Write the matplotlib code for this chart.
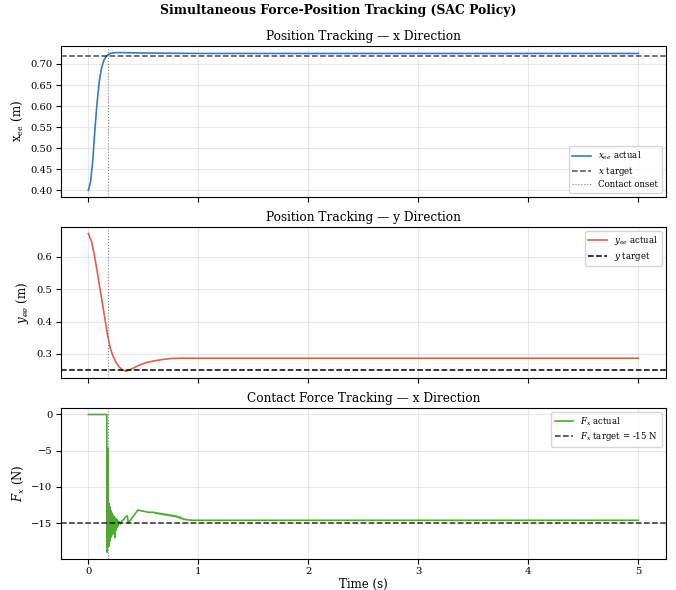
import matplotlib
matplotlib.use("Agg")
import matplotlib.pyplot as plt
from matplotlib.ticker import MultipleLocator, FormatStrFormatter

plt.rcParams["font.family"] = "DejaVu Serif"
plt.rcParams["mathtext.fontset"] = "dejavuserif"

# x position of end effector
t_x = [0.0, 0.02, 0.04, 0.06, 0.08, 0.10, 0.12, 0.14, 0.16, 0.18, 0.20, 0.25, 0.30, 0.50, 1.0, 5.0]
x_ee = [0.400, 0.420, 0.470, 0.545, 0.610, 0.660, 0.690, 0.708, 0.717, 0.722, 0.725, 0.727, 0.727, 0.726, 0.725, 0.725]

# y position of end effector
t_y = [0.0, 0.03, 0.055, 0.08, 0.10, 0.125, 0.145, 0.175, 0.20, 0.22, 0.25, 0.28, 0.31, 0.34, 0.37,
       0.40, 0.46, 0.52, 0.60, 0.675, 0.75, 0.83, 1.0, 5.0]
y_ee = [0.671, 0.645, 0.604, 0.555, 0.512, 0.462, 0.420, 0.358, 0.318, 0.297, 0.275, 0.260, 0.251, 0.247, 0.250,
        0.255, 0.265, 0.273, 0.279, 0.283, 0.286, 0.287, 0.287, 0.287]

# contact force in x
t_f = [0.0, 0.168, 0.170, 0.174, 0.178, 0.182, 0.186, 0.190, 0.194, 0.198, 0.202, 0.206, 0.210,
       0.215, 0.220, 0.225, 0.230, 0.235, 0.240, 0.245, 0.250, 0.255, 0.260, 0.265, 0.270, 0.280,
       0.290, 0.300, 0.320, 0.340, 0.355, 0.362, 0.45, 0.55, 0.60, 0.61, 0.62, 0.63, 0.64, 0.65,
       0.66, 0.67, 0.68, 0.69, 0.70, 0.71, 0.72, 0.73, 0.74, 0.75, 0.76, 0.77, 0.78, 0.79, 0.80,
       0.81, 0.82, 0.83, 0.84, 0.85, 0.86, 0.87, 0.88, 0.90, 0.95, 1.0, 5.0]
f_x = [0.0, 0.0, -19.0, -8.0, -4.7, -16.0, -18.2, -12.3, -17.5, -12.8, -17.0, -13.3, -16.8,
       -13.6, -16.5, -13.9, -16.3, -14.1, -17.0, -14.3, -16.0, -14.4, -15.6, -14.6, -15.4, -14.8,
       -15.1, -14.8, -14.5, -14.1, -14.0, -15.0, -13.2, -13.5, -13.5, -13.65, -13.55, -13.7, -13.6, -13.75,
       -13.65, -13.8, -13.7, -13.85, -13.75, -13.9, -13.8, -13.95, -13.85, -14.0, -13.9, -14.05, -13.95, -14.1, -14.0,
       -14.2, -14.1, -14.3, -14.2, -14.4, -14.35, -14.5, -14.45, -14.55, -14.6, -14.6, -14.6]

x_target = 0.72
y_target = 0.25
f_target = -15
t_contact = 0.175

c_x = "#3a78c2"
c_y = "#e0604f"
c_f = "#4dab2c"

leg_kw = dict(fontsize=6.2, labelspacing=0.3, borderpad=0.4, handlelength=2.2)

fig, axes = plt.subplots(3, 1, figsize=(6.76, 5.9), dpi=100, sharex=True)
fig.subplots_adjust(left=0.090, right=0.985, top=0.9225, bottom=0.0525, hspace=0.195)
fig.suptitle("Simultaneous Force-Position Tracking (SAC Policy)", fontsize=8.9, fontweight="bold", y=0.993)

ax = axes[0]
ax.plot(t_x, x_ee, color=c_x, lw=1.2, label=r"$x_{ee}$ actual")
ax.axhline(x_target, color="black", ls="--", lw=1.1, alpha=0.7, label=r"$x$ target")
ax.axvline(t_contact, color="gray", ls=":", lw=0.8, label="Contact onset")
ax.set_ylabel(r"x$_{\mathrm{ee}}$ (m)", fontsize=8.5)
ax.set_title("Position Tracking — x Direction", fontsize=8.7, pad=4)
ax.yaxis.set_major_locator(MultipleLocator(0.05))
ax.yaxis.set_major_formatter(FormatStrFormatter("%.2f"))
ax.legend(loc="lower right", **leg_kw)

ax = axes[1]
ax.plot(t_y, y_ee, color=c_y, lw=1.2, label=r"$y_{ee}$ actual")
ax.axhline(y_target, color="black", ls="--", lw=1.1, label=r"$y$ target")
ax.axvline(t_contact, color="gray", ls=":", lw=0.8)
ax.set_ylabel(r"$y_{ee}$ (m)", fontsize=8.5)
ax.set_title("Position Tracking — y Direction", fontsize=8.7, pad=4)
ax.legend(loc="upper right", **leg_kw)

ax = axes[2]
ax.plot(t_f, f_x, color=c_f, lw=1.2, label=r"$F_x$ actual")
ax.axhline(f_target, color="black", ls="--", lw=1.1, alpha=0.8, label=r"$F_x$ target = -15 N")
ax.axvline(t_contact, color="gray", ls=":", lw=0.8)
ax.set_ylabel(r"$F_x$ (N)", fontsize=8.5)
ax.set_xlabel("Time (s)", fontsize=8.5, labelpad=1)
ax.set_title("Contact Force Tracking — x Direction", fontsize=8.7, pad=4)
ax.legend(loc="upper right", **leg_kw)

for ax in axes:
    ax.grid(True, alpha=0.3)
    ax.tick_params(labelsize=7.2, pad=2.5)

plt.savefig("out.png", dpi=100)
